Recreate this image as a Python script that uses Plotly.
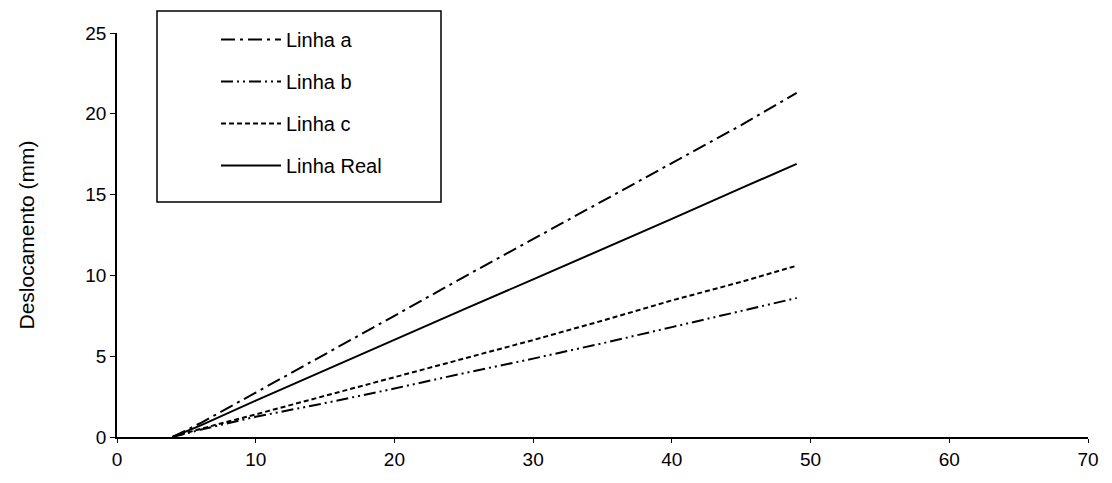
import plotly.graph_objects as go

x_vals = [4, 6, 10, 15, 20, 25, 30, 35, 40, 45, 49]
linha_a = [0.0, 0.85, 2.75, 5.1, 7.5, 9.9, 12.25, 14.6, 17.0, 19.3, 21.3]
linha_b = [0.0, 0.45, 1.25, 2.1, 3.0, 3.95, 4.85, 5.8, 6.8, 7.8, 8.6]
linha_c = [0.0, 0.5, 1.4, 2.55, 3.7, 4.85, 6.0, 7.2, 8.45, 9.6, 10.6]
linha_real = [0.0, 0.7, 2.25, 4.15, 6.0, 7.9, 9.75, 11.6, 13.5, 15.4, 16.9]

series_names = ["Linha a", "Linha b", "Linha c", "Linha Real"]
series_vals = [linha_a, linha_b, linha_c, linha_real]
dashes = ["14px,5px,3px,5px", "12px,4px,2px,4px,2px,4px", "5px,3px", "solid"]

x_ticks = [0, 10, 20, 30, 40, 50, 60, 70]
y_ticks = [0, 5, 10, 15, 20, 25]

fig = go.Figure()
for i, (name, vals, dash) in enumerate(zip(series_names, series_vals, dashes)):
    fig.add_trace(go.Scatter(
        x=x_vals, y=vals, mode="lines", name=name,
        legendgroup=f"g{i}",
        line=dict(color="black", width=2, dash=dash),
    ))

font_family = "Liberation Sans, Arial, sans-serif"
OFF = 8  # default page body margin
W, H = 1112 - OFF, 483 - OFF
ml, mr, mt, mb = 117 - OFF, 24, 33 - OFF, 46
pw, ph = W - ml - mr, H - mt - mb

def px_x(p):
    return (p - OFF - ml) / pw

def px_y(p):
    return (H - mb - (p - OFF)) / ph

fig.update_layout(
    width=W, height=H,
    margin=dict(l=ml, r=mr, t=mt, b=mb, autoexpand=False),
    paper_bgcolor="white", plot_bgcolor="white",
    font=dict(family=font_family, color="black", size=19),
    showlegend=True,
    legend=dict(
        x=px_x(216), y=px_y(20), xanchor="left", yanchor="top",
        bgcolor="rgba(0,0,0,0)", borderwidth=0,
        font=dict(size=20, family=font_family, color="black"),
        tracegroupgap=13, traceorder="grouped",
        itemwidth=60,
    ),
    shapes=[dict(
        type="rect", xref="paper", yref="paper",
        x0=px_x(157), x1=px_x(441), y0=px_y(202), y1=px_y(11),
        line=dict(color="black", width=1.5), fillcolor="white", layer="below",
    )],
    xaxis=dict(
        range=[0, 70], tickvals=x_ticks, ticktext=[str(v) for v in x_ticks],
        showgrid=False, zeroline=False, showline=True, linecolor="black", linewidth=1.5,
        ticks="outside", ticklen=4, tickcolor="black", automargin=False,
        tickfont=dict(size=19, family=font_family, color="black"),
    ),
    yaxis=dict(
        range=[0, 25], tickvals=y_ticks, ticktext=[str(v) for v in y_ticks],
        showgrid=False, zeroline=False, showline=True, linecolor="black", linewidth=1.5,
        ticks="outside", ticklen=5, tickcolor="black", automargin=False,
        tickfont=dict(size=19, family=font_family, color="black"),
        title=dict(text="Deslocamento (mm)", font=dict(size=21, family=font_family, color="black"), standoff=45),
    ),
)

fig.write_html("out.html")
